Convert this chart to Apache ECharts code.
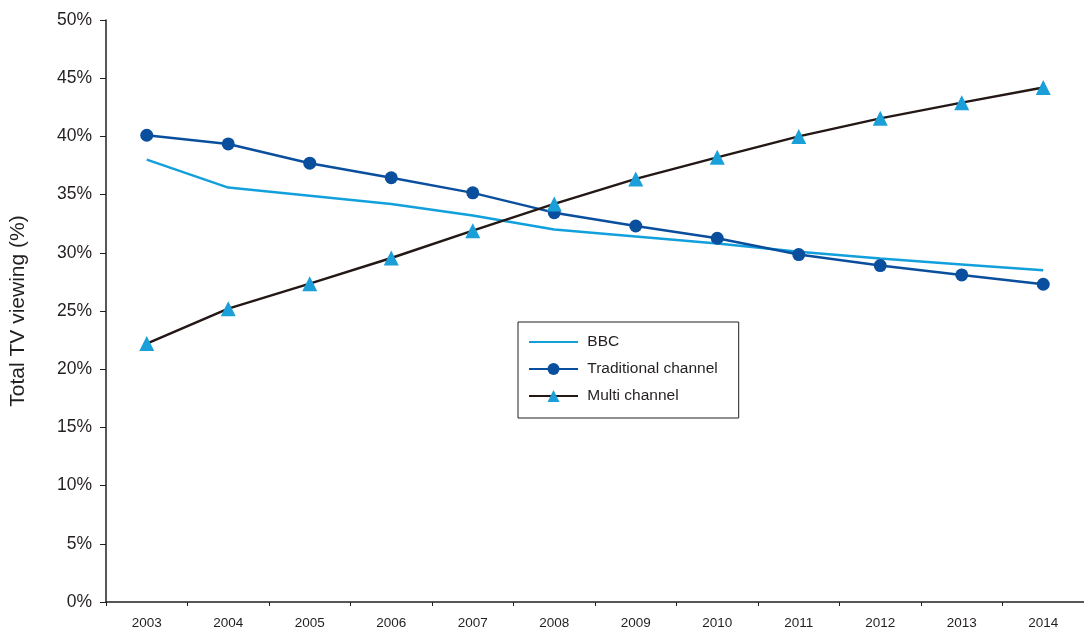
<!DOCTYPE html>
<html>
<head>
<meta charset="utf-8">
<script src="https://cdn.jsdelivr.net/npm/echarts@6/dist/echarts.min.js"></script>
<style>
html,body{margin:0;padding:0;background:#fff;}
#chart{width:1084px;height:631px;}
</style>
</head>
<body>
<div id="chart"></div>
<script>
const years = ['2003','2004','2005','2006','2007','2008','2009','2010','2011','2012','2013','2014'];
const bbc = [38.0, 35.6, 34.9, 34.2, 33.2, 32.0, 31.4, 30.8, 30.1, 29.5, 29.0, 28.5];
const traditional = [40.1, 39.35, 37.7, 36.45, 35.15, 33.45, 32.3, 31.25, 29.85, 28.9, 28.1, 27.3];
const multi = [22.2, 25.2, 27.35, 29.55, 31.9, 34.2, 36.35, 38.2, 40.0, 41.55, 42.9, 44.2];
const yTicks = {min: 0, max: 50, interval: 5};

const txt = '#231f20';
const font = '"Liberation Sans", Arial, Helvetica, sans-serif';
const chart = echarts.init(document.getElementById('chart'), null, {renderer: 'canvas'});
chart.setOption({
  animation: false,
  backgroundColor: '#ffffff',
  textStyle: {fontFamily: font, color: txt},
  grid: {left: 106, top: 20, right: 0, bottom: 29, containLabel: false, outerBoundsMode: 'none'},
  legend: {
    orient: 'vertical',
    left: 518, top: 322,
    padding: [12, 21, 14, 10],
    itemGap: 11,
    itemWidth: 49, itemHeight: 15,
    borderColor: txt, borderWidth: 1,
    formatter: ' {name}',
    textStyle: {fontSize: 15.5, color: txt, fontFamily: font},
    data: [
      {name: 'BBC', itemStyle: {opacity: 0}},
      'Traditional channel',
      'Multi channel'
    ]
  },
  xAxis: {
    type: 'category',
    data: years,
    boundaryGap: true,
    axisLine: {lineStyle: {color: txt, width: 1.5}},
    axisTick: {show: true, length: 4, lineStyle: {color: txt}},
    axisLabel: {fontSize: 13.5, color: txt, margin: 14, fontFamily: font},
    splitLine: {show: false}
  },
  yAxis: {
    type: 'value',
    min: yTicks.min, max: yTicks.max, interval: yTicks.interval,
    name: 'Total TV viewing (%)',
    nameLocation: 'middle',
    nameGap: 77,
    nameTextStyle: {fontSize: 21, color: txt, fontFamily: font},
    axisLine: {show: true, lineStyle: {color: txt, width: 1.5}},
    axisTick: {show: true, length: 6, lineStyle: {color: txt}},
    axisLabel: {formatter: '{value}%', fontSize: 17.5, color: txt, margin: 14, fontFamily: font},
    splitLine: {show: false}
  },
  series: [
    {
      name: 'BBC', type: 'line', data: bbc,
      symbol: 'none',
      lineStyle: {color: '#12a0dc', width: 2.5},
      itemStyle: {color: '#12a0dc'}
    },
    {
      name: 'Traditional channel', type: 'line', data: traditional,
      symbol: 'circle', symbolSize: 13,
      lineStyle: {color: '#0a4f9e', width: 2.5},
      itemStyle: {color: '#0a4f9e'}
    },
    {
      name: 'Multi channel', type: 'line', data: multi,
      symbol: 'triangle', symbolSize: 15,
      lineStyle: {color: '#231815', width: 2.5},
      itemStyle: {color: '#1a9fd9'}
    }
  ]
});
</script>
</body>
</html>
